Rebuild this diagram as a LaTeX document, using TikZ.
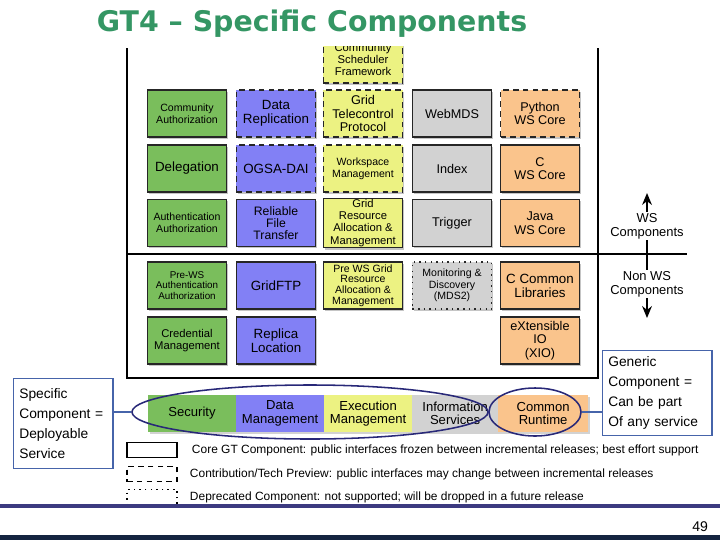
\documentclass[tikz,border=0pt]{standalone}
\usepackage{fontspec}
\setmainfont{Liberation Sans}
\newfontfamily\titlefont{DejaVu Sans}
\usetikzlibrary{positioning,shapes.geometric,shadows,arrows.meta}

\definecolor{gtgreen}{RGB}{122,190,92}
\definecolor{gtblue}{RGB}{130,128,245}
\definecolor{gtyellow}{RGB}{236,242,130}
\definecolor{gtgray}{RGB}{210,210,210}
\definecolor{gtorange}{RGB}{250,196,140}
\definecolor{gttitle}{RGB}{52,150,100}
\definecolor{gtnavy}{RGB}{40,40,120}
\definecolor{gtsteel}{RGB}{70,100,170}
\definecolor{gtrule}{RGB}{60,58,128}
\definecolor{gtfoot}{RGB}{20,36,64}

\begin{document}
\begin{tikzpicture}[x=0.025cm,y=-0.025cm]
            \tikzstyle{comp} = [rectangle, draw=black!85, line width=1pt, minimum width=1.975cm, minimum height=1.175cm, inner sep=1pt, align=center, font=\fontsize{9}{9.6}\selectfont, drop shadow={shadow xshift=1.3pt, shadow yshift=-1.3pt, fill=black!45}]
            \tikzstyle{preview} = [dash pattern=on 4pt off 3pt]
            \tikzstyle{deprecated} = [dash pattern=on 1pt off 3pt]
            \tikzstyle{largetext} = [font=\fontsize{9.5}{10}\selectfont]
            \tikzstyle{midtext} = [font=\fontsize{8}{8.6}\selectfont]
            \tikzstyle{smalltext} = [font=\fontsize{7.5}{8.3}\selectfont]
            \tikzstyle{tinytext} = [font=\fontsize{7}{7.4}\selectfont]
            \tikzstyle{band} = [rectangle, minimum width=2.2cm, minimum height=0.925cm, inner sep=0pt, outer sep=0pt, align=center, font=\fontsize{9.3}{9.6}\selectfont, drop shadow={shadow xshift=1.3pt, shadow yshift=-1.3pt, fill=black!35}]
            \tikzstyle{ring} = [ellipse, draw=gtnavy, line width=1.1pt, inner sep=0pt]
            \tikzstyle{note} = [rectangle, draw=gtsteel, line width=1pt, align=left, inner xsep=4pt, font=\fontsize{9.8}{14.2}\selectfont]
            \tikzstyle{sidetext} = [align=center, inner sep=1pt, font=\fontsize{9.2}{9.8}\selectfont]
            \tikzstyle{legendbox} = [rectangle, draw, line width=1pt, minimum width=1.25cm, minimum height=0.375cm]
            \tikzstyle{legendtext} = [font=\fontsize{8.5}{9}\selectfont, inner sep=0pt]
            \tikzstyle{arrow} = [line width=1pt,->,>={Stealth[length=8.5pt,width=7pt]}]

            \useasboundingbox (0,0) rectangle (720,540);

            \node (title) [font=\titlefont\bfseries\fontsize{20.2}{22}\selectfont, text=gttitle] at (312,24) {GT4 – Specific Components};

            % frame and WS / non WS split
            \draw [line width=1pt] (127,48) -- (127,378) -- (598,378) -- (598,48);
            \draw [line width=1pt] (127,254) -- (687,254);

            \begin{scope}
              \clip (0,46) rectangle (720,540);
              \node (commsched) [comp, preview, fill=gtyellow, midtext] at (363,59.5) {Community\\Scheduler\\Framework};
            \end{scope}

            \node (commauth) [comp, fill=gtgreen, smalltext] at (187,113.5) {Community\\Authorization};
            \node (datarepl) [comp, preview, fill=gtblue, largetext] at (276,113.5) {Data\\Replication};
            \node (gtcp) [comp, preview, fill=gtyellow] at (363,113.5) {Grid\\Telecontrol\\Protocol};
            \node (webmds) [comp, fill=gtgray] at (452,113.5) {WebMDS};
            \node (pywscore) [comp, preview, fill=gtorange] at (540,113.5) {Python\\WS Core};

            \node (delegation) [comp, fill=gtgreen, largetext] at (187,168.5) {Delegation};
            \node (ogsadai) [comp, preview, fill=gtblue, largetext] at (276,168.5) {OGSA-DAI};
            \node (workspace) [comp, preview, fill=gtyellow, smalltext] at (363,168.5) {Workspace\\Management};
            \node (index) [comp, fill=gtgray] at (452,168.5) {Index};
            \node (cwscore) [comp, fill=gtorange] at (540,168.5) {C\\WS Core};

            \node (authn) [comp, fill=gtgreen, smalltext] at (187,223) {Authentication\\Authorization};
            \node (rft) [comp, fill=gtblue, font=\fontsize{8.7}{8.6}\selectfont] at (276,223) {Reliable\\File\\Transfer};
            \node (gram) [comp, fill=gtyellow, midtext] at (363,223) {Grid\\Resource\\Allocation \&\\Management};
            \node (trigger) [comp, fill=gtgray] at (452,223) {Trigger};
            \node (javawscore) [comp, fill=gtorange] at (540,223) {Java\\WS Core};

            \node (prewsauth) [comp, fill=gtgreen, tinytext] at (187,285.5) {Pre-WS\\Authentication\\Authorization};
            \node (gridftp) [comp, fill=gtblue, largetext] at (276,285.5) {GridFTP};
            \node (prewsgram) [comp, fill=gtyellow, smalltext, font=\fontsize{7.5}{7.6}\selectfont] at (363,285.5) {Pre WS Grid\\Resource\\Allocation \&\\Management};
            \node (mds2) [comp, deprecated, fill=gtgray, smalltext] at (452,285.5) {Monitoring \&\\Discovery\\(MDS2)};
            \node (ccommon) [comp, fill=gtorange, largetext] at (540,285.5) {C Common\\Libraries};

            \node (credential) [comp, fill=gtgreen, midtext] at (187,340.5) {Credential\\Management};
            \node (replica) [comp, fill=gtblue, largetext] at (276,340.5) {Replica\\Location};
            \node (xio) [comp, fill=gtorange] at (540,340.5) {eXtensible\\IO\\(XIO)};

            % WS / non WS arrows
            \node (wscomp) [sidetext] at (647,226) {WS\\Components};
            \node (nonwscomp) [sidetext] at (647,284) {Non WS\\Components};
            \coordinate (wstip) at (647,193);
            \coordinate (nonwstip) at (647,318);
            \draw [arrow] (wscomp) -- (wstip);
            \draw [line width=1pt] (wscomp) -- (nonwscomp);
            \draw [arrow] (nonwscomp) -- (nonwstip);

            % service band
            \node (security) [band, fill=gtgreen, anchor=west] at (148,413.5) {Security};
            \node (datamgmt) [band, fill=gtblue, right=0pt of security] {Data\\Management};
            \node (execmgmt) [band, fill=gtyellow, right=0pt of datamgmt] {Execution\\Management};
            \node (infoserv) [band, fill=gtgray, right=0pt of execmgmt, minimum width=2.15cm] {Information\\Services};
            \node (commonrt) [band, fill=gtorange, right=0pt of infoserv, minimum width=2.25cm] {Common\\Runtime};

            \node (secring) [ring, minimum width=8.9cm, minimum height=1.35cm] at (310,412) {};
            \node (rtring) [ring, minimum width=2.3cm, minimum height=1.2cm] at (535,412) {};

            \node (specific) [note, anchor=north west, text width=2.2cm, minimum height=2.25cm] at (13,378) {Specific\\Component =\\Deployable\\Service};
            \node (generic) [note, anchor=north west, text width=2.45cm, minimum height=2.125cm] at (602,350) {Generic\\Component =\\Can be part\\Of any service};
            \draw [gtsteel, line width=1pt] (secring.west) -- (secring.west -| specific.east);
            \draw [gtsteel, line width=1pt] (rtring.east) -- (rtring.east -| generic.west);

            % legend
            \node (corebox) [legendbox] at (152,450) {};
            \node (corelbl) [legendtext, right=0.35cm of corebox] {Core GT Component: public interfaces frozen between incremental releases; best effort support};
            \node (prevbox) [legendbox, preview] at (152,474) {};
            \node (prevlbl) [legendtext, right=0.3cm of prevbox] {Contribution/Tech Preview: public interfaces may change between incremental releases};
            \node (deprbox) [legendbox, deprecated] at (152,497) {};
            \node (deprlbl) [legendtext, right=0.3cm of deprbox] {Deprecated Component: not supported; will be dropped in a future release};

            % footer
            \draw [gtrule, line width=2.2pt] (0,506) -- (720,506);
            \node (pagenum) [anchor=east, font=\fontsize{10}{12}\selectfont] at (713,527) {49};
            \fill [gtfoot] (0,535) rectangle (720,540);
        \end{tikzpicture}
\end{document}
